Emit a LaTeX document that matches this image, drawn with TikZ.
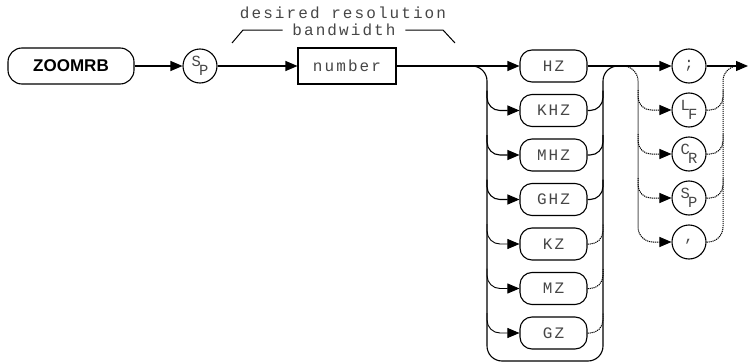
\documentclass[tikz,border=0pt]{standalone}
\usepackage{fontspec}
\setmainfont{Liberation Sans}
\newfontfamily\traceur[LetterSpace=13]{Liberation Mono}
\usetikzlibrary{arrows.meta, positioning, calc}
\definecolor{ink}{RGB}{0,0,0}
\definecolor{muted}{RGB}{70,70,70}
\newcommand{\carctrl}[2]{\raisebox{4.5pt}{#1}\kern-2pt\raisebox{-5pt}{#2}}

\begin{document}
\begin{tikzpicture}[x=1pt, y=-1pt, line width=1.1pt, draw=ink,
    fleche/.style={-{Triangle[length=12pt,width=10pt]}},
    mot/.style={draw, rounded corners=12pt, minimum width=67pt, minimum height=32pt,
      inner sep=0pt, text=muted, font=\traceur\fontsize{16}{16}\selectfont},
    rond/.style={draw, circle, minimum size=34pt, inner sep=0pt, text=muted,
      font=\traceur\fontsize{15.5}{15.5}\selectfont},
    pointille/.style={dash pattern=on 1.2pt off 0.8pt, line width=1pt}]
  \useasboundingbox (0,0) rectangle (748,364);

  % commande et parametre
  \node[draw, rounded corners=14pt, minimum width=126pt, minimum height=36pt, inner sep=0pt,
    font=\bfseries\fontsize{17}{17}\selectfont] (zoomrb) at (71,66) {ZOOMRB};
  \node[rond] (sp) at (200,66) {\carctrl{S}{P}};
  \node[draw, minimum width=98pt, minimum height=36pt, inner sep=0pt, text=muted,
    font=\traceur\fontsize{16}{16}\selectfont] (nombre) at (347,66) {number};

  % accolade au-dessus
  \node[text=muted, font=\traceur\fontsize{16}{16}\selectfont] (desc) at (343,13) {desired resolution};
  \node[text=muted, font=\traceur\fontsize{16}{16}\selectfont] (bande) at (344,30) {bandwidth};
  \draw[line width=1pt] (232,43) -- (243,30) -- ($(bande.west)+(-6,0)$);
  \draw[line width=1pt] ($(bande.east)+(6,0)$) -- (443,30) -- (455,43);

  % unites
  \foreach \u [count=\i from 0] in {HZ,KHZ,MHZ,GHZ,KZ,MZ,GZ}
    \node[mot] (\u) at (553.5,66+44.5*\i) {\u};

  % terminaisons
  \node[rond] (pv) at (689,66) {;};
  \node[rond] (lf) at (689,110) {\carctrl{L}{F}};
  \node[rond] (cr) at (689,154) {\carctrl{C}{R}};
  \node[rond] (esp) at (689,198) {\carctrl{S}{P}};
  \node[rond] (virg) at (689,242) {,};

  \coordinate (g1g) at (487,66);
  \coordinate (g1d) at (603,66);
  \coordinate (g2g) at (638,66);
  \coordinate (g2d) at (723,66);
  \coordinate (bas) at (0,361);
  \coordinate (fin) at (748,66);

  % chemin principal
  \draw[fleche] (zoomrb) -- (sp);
  \draw[fleche] (sp) -- (nombre);
  \draw[fleche] (nombre) -- (HZ);
  \draw[fleche] (HZ) -- (pv);
  \draw[fleche] (pv) -- (fin);

  % rails du premier groupe
  \draw[rounded corners=15pt] ($(g1g)+(-30,0)$) -| (g1g |- bas) -| (g1d) -- ($(g1d)+(25,0)$);
  \foreach \u in {KHZ,MHZ,GHZ}{
    \draw[fleche, rounded corners=13pt] ($(g1g |- \u.west)+(0,-20)$) |- (\u.west);
    \draw[rounded corners=13pt] (\u.east) -| ($(g1d |- \u.east)+(0,-20)$);
  }
  \foreach \u in {KZ,MZ,GZ}{
    \draw[fleche, line width=0.9pt, rounded corners=13pt] ($(g1g |- \u.west)+(0,-20)$) |- (\u.west);
    \draw[pointille, rounded corners=13pt] (\u.east) -| ($(g1d |- \u.east)+(0,-20)$);
  }

  % rails du second groupe
  \draw[pointille, fleche, rounded corners=15pt] ($(g2g)+(-20,0)$) -- (g2g) |- (virg.west);
  \draw[pointille, rounded corners=15pt] (virg.east) -| (g2d) -- ($(g2d)+(20,0)$);
  \foreach \t in {lf,cr,esp}{
    \draw[pointille, fleche, rounded corners=13pt] ($(g2g |- \t.west)+(0,-20)$) |- (\t.west);
    \draw[pointille, rounded corners=13pt] (\t.east) -| ($(g2d |- \t.east)+(0,-20)$);
  }
\end{tikzpicture}
\end{document}
